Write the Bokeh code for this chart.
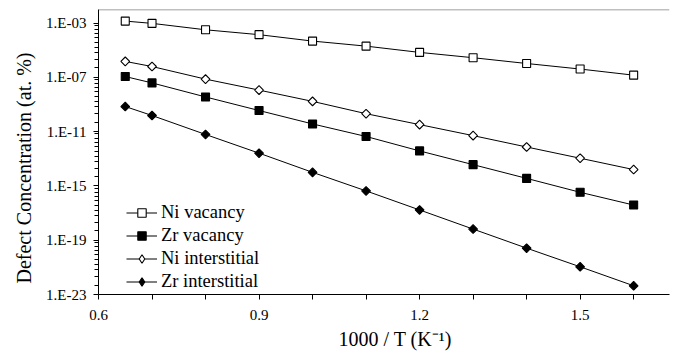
import math
from bokeh.plotting import figure
from bokeh.models import (FixedTicker, CustomJSTickFormatter, Legend, Title,
                          LegendItem, Span, Range1d, ColumnDataSource)
from bokeh.embed import file_html
from bokeh.resources import INLINE

# ---- data ----
inv_T = [0.65, 0.7, 0.8, 0.9, 1.0, 1.1, 1.2, 1.3, 1.4, 1.5, 1.6]
ni_vacancy = [1.4e-3, 9.5e-4, 3.2e-4, 1.4e-4, 4.7e-5, 2.0e-5, 6.9e-6, 2.8e-6, 1.05e-6, 4.1e-7, 1.45e-7]
zr_vacancy = [1.15e-7, 3.9e-8, 3.6e-9, 3.6e-10, 3.7e-11, 4.4e-12, 3.8e-13, 3.7e-14, 3.6e-15, 3.4e-16, 3.9e-17]
ni_interstitial = [1.5e-6, 6.3e-7, 7.4e-8, 1.15e-8, 1.7e-9, 2.1e-10, 3.3e-11, 5.1e-12, 7.4e-13, 1.1e-13, 1.6e-14]
zr_interstitial = [7.1e-10, 1.55e-10, 6.2e-12, 2.6e-13, 1.0e-14, 4.3e-16, 1.7e-17, 6.6e-19, 2.6e-20, 1.1e-21, 4.4e-23]

series_names = ["Ni vacancy", "Zr vacancy", "Ni interstitial", "Zr interstitial"]

x_major_ticks = [0.6, 0.9, 1.2, 1.5]
x_minor_ticks = [0.7, 0.8, 1.0, 1.1, 1.3, 1.4, 1.6]
y_major_ticks = [1e-23, 1e-19, 1e-15, 1e-11, 1e-7, 1e-3]

x_title = "1000 / T (K\u207b\u00b9)"
y_title = "Defect Concentration (at. %)"

# ---- style ----
SERIF = "Liberation Serif, Times New Roman, serif"
minor_offsets = [0.17, 0.47, 0.77, 1.06, 1.43, 1.8, 2.17, 2.69, 3.3]
y_minor_ticks = [m * 10 ** (-d) for m in y_major_ticks[1:] for d in minor_offsets]

p = figure(width=670, height=356,
           x_range=Range1d(0.6, 1.667), y_range=Range1d(1e-23, 1e-2),
           y_axis_type="log", output_backend="svg", toolbar_location=None,
           min_border_left=98, min_border_right=1, min_border_top=9,
           min_border_bottom=62)
p.outline_line_color = None
p.background_fill_color = "white"
p.border_fill_color = "white"
p.xgrid.visible = False
p.ygrid.visible = False

# axes
p.xaxis.ticker = FixedTicker(ticks=x_major_ticks, minor_ticks=x_minor_ticks)
p.yaxis.ticker = FixedTicker(ticks=y_major_ticks, minor_ticks=y_minor_ticks)
p.yaxis.formatter = CustomJSTickFormatter(code="""
const e = Math.round(Math.log10(tick));
const s = Math.abs(e).toString().padStart(2, '0');
return '1.E' + (e < 0 ? '-' : '+') + s;
""")
for ax in (p.xaxis, p.yaxis):
    ax.axis_line_color = "black"
    ax.axis_line_width = 1
    ax.major_tick_line_color = "black"
    ax.minor_tick_line_color = "black"
    ax.major_tick_in = 0
    ax.minor_tick_in = 0
    ax.major_tick_out = 5
    ax.major_label_text_font = SERIF
    ax.major_label_text_font_size = "15px"
    ax.major_label_text_color = "black"
p.xaxis.minor_tick_out = 5
p.yaxis.minor_tick_out = 4
p.xaxis.major_label_standoff = 10
p.yaxis.major_label_standoff = 7

# top frame line
p.add_layout(Span(location=1e-2, dimension="width", line_color="#808080", line_width=1.5))

src = ColumnDataSource(dict(x=inv_T, nv=ni_vacancy, zv=zr_vacancy,
                            ni=ni_interstitial, zi=zr_interstitial))

items = []
l1 = p.line("x", "nv", source=src, line_color="black", line_width=1)
s1 = p.scatter("x", "nv", source=src, marker="square", size=8,
               fill_color="white", line_color="black", line_width=1.1)
items.append(LegendItem(label=series_names[0], renderers=[l1, s1]))
l2 = p.line("x", "zv", source=src, line_color="black", line_width=1)
s2 = p.scatter("x", "zv", source=src, marker="square", size=8,
               fill_color="black", line_color="black", line_width=1.1)
items.append(LegendItem(label=series_names[1], renderers=[l2, s2]))
l3 = p.line("x", "ni", source=src, line_color="black", line_width=1)
p.scatter("x", "ni", source=src, marker="square", size=6.2, angle=math.pi / 4,
          fill_color="white", line_color="black", line_width=1.1)
h3 = p.scatter("x", "ni", source=src, marker="diamond", size=9,
               fill_color="white", line_color="black", line_width=1.1, visible=False)
items.append(LegendItem(label=series_names[2], renderers=[l3, h3]))
l4 = p.line("x", "zi", source=src, line_color="black", line_width=1)
p.scatter("x", "zi", source=src, marker="square", size=6.2, angle=math.pi / 4,
          fill_color="black", line_color="black", line_width=1.1)
h4 = p.scatter("x", "zi", source=src, marker="diamond", size=9,
               fill_color="black", line_color="black", line_width=1.1, visible=False)
items.append(LegendItem(label=series_names[3], renderers=[l4, h4]))

legend = Legend(items=items, location=(28, 2.5), orientation="vertical",
                glyph_width=31, glyph_height=21, label_height=21,
                label_standoff=4, spacing=2, padding=0, margin=0,
                border_line_alpha=0, background_fill_alpha=0,
                label_text_font=SERIF, label_text_font_size="18.5px",
                label_text_color="black")
p.add_layout(legend)

# axis titles
p.add_layout(Title(text=x_title, align="left", offset=240, standoff=6,
                   text_font=SERIF, text_font_size="20px",
                   text_font_style="normal", text_color="black"), "below")
p.add_layout(Title(text=y_title, align="left", offset=11, standoff=16,
                   vertical_align="middle",
                   text_font=SERIF, text_font_size="20px",
                   text_font_style="normal", text_color="black"), "left")

open("out.html", "w").write(file_html(p, INLINE))
